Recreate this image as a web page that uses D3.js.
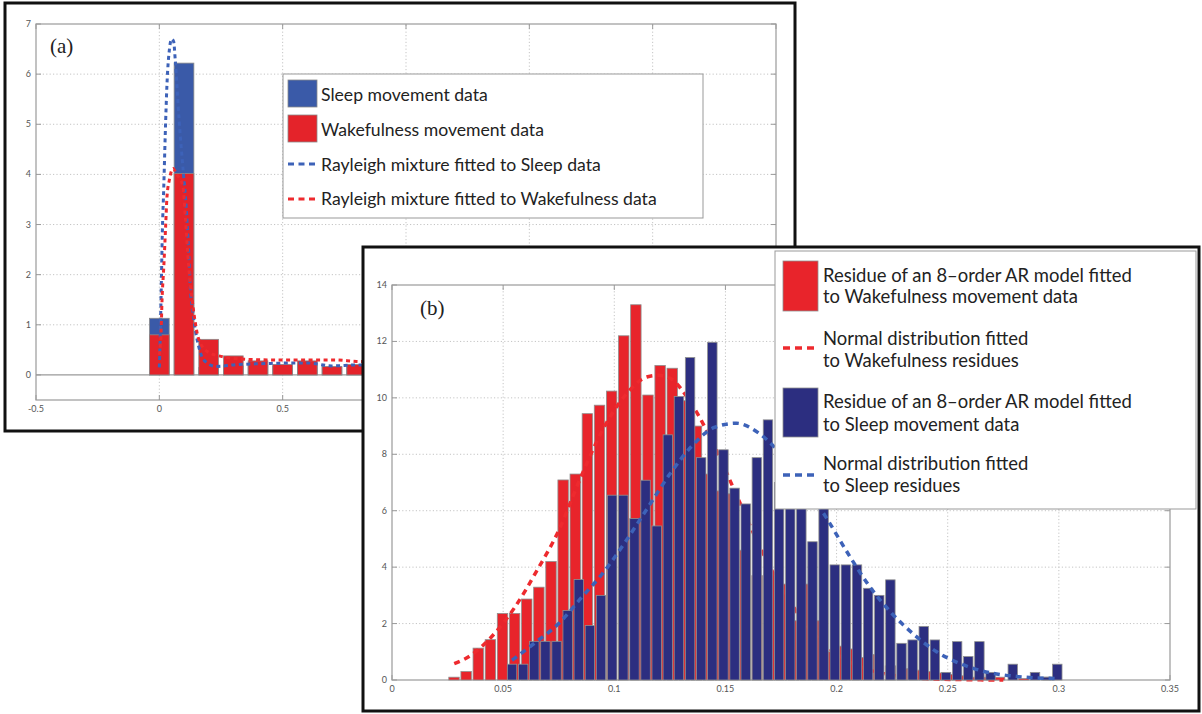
<!DOCTYPE html>
<html><head><meta charset="utf-8">
<script src="https://cdn.jsdelivr.net/npm/d3@7"></script>
<style>body{margin:0;background:#fff}</style>
</head><body>
<svg id="c" width="1202" height="714"></svg>
<script>
// ---------- Panel (a) data ----------
const binsA = [0, 0.1, 0.2, 0.3, 0.4, 0.5, 0.6, 0.7, 0.8];
const sleepA = [1.13, 6.22, 0.15, 0.18, 0.2, 0.18, 0.2, 0.15, 0.18];
const wakeA  = [0.8, 4.02, 0.71, 0.38, 0.28, 0.21, 0.28, 0.17, 0.21];
const sleepFitAx = [0, 0.004, 0.008, 0.012, 0.018, 0.024, 0.031, 0.041, 0.05, 0.058, 0.065, 0.08, 0.098, 0.106, 0.119, 0.126, 0.135, 0.146, 0.16, 0.18, 0.23, 0.3, 0.45, 0.6, 0.7, 0.8, 1.0, 1.2];
const sleepFitAy = [0.15, 0.85, 1.8, 2.8, 3.75, 4.8, 5.8, 6.5, 6.7, 6.65, 6.25, 5.1, 4.0, 3.55, 2.45, 1.7, 1.3, 0.9, 0.56, 0.3, 0.17, 0.2, 0.23, 0.24, 0.18, 0.2, 0.17, 0.15];
const wakeFitAx = [0, 0.007, 0.011, 0.018, 0.025, 0.031, 0.041, 0.056, 0.07, 0.085, 0.096, 0.106, 0.119, 0.133, 0.144, 0.153, 0.167, 0.2, 0.25, 0.3, 0.44, 0.6, 0.71, 0.8, 1.0, 1.2];
const wakeFitAy = [0.4, 0.84, 1.5, 2.15, 2.9, 3.55, 3.9, 4.12, 4.0, 3.9, 3.75, 3.1, 2.16, 1.5, 1.1, 0.84, 0.63, 0.45, 0.37, 0.33, 0.3, 0.3, 0.3, 0.27, 0.25, 0.22];
const ticksAX = [-0.5, 0, 0.5, 1, 1.5, 2, 2.5];
const tickLabelsAX = ["-0.5", "0", "0.5", "1", "1.5", "2", "2.5"];
const ticksAY = [0, 1, 2, 3, 4, 5, 6, 7];
const legendA = ["Sleep movement data", "Wakefulness movement data", "Rayleigh mixture fitted to Sleep data", "Rayleigh mixture fitted to Wakefulness data"];

// ---------- Panel (b) data ----------
const redBinStart = 0.0279, redBinWidth = 0.005454;
const blueBinStart = 0.054, blueBinWidth = 0.005006;
const wakeB = [0.1, 0.3, 1.13, 1.43, 2.36, 2.36, 2.87, 3.29, 4.2, 7.09,
  7.3, 9.44, 9.74, 10.24, 12.2, 13.3, 10.1, 11.15, 11.05, 9.9,
  9.0, 7.3, 6.7, 6.6, 4.6, 3.7, 3.8, 3.4, 2.1, 3.4,
  2.1, 1.0, 1.2, 1.1, 0.8, 0.9, 0.5, 0.4, 0.35, 0.3,
  0.25, 0.2, 0.15, 0.1, 0.1, 0.1, 0, 0.05, 0, 0.1];
const sleepB = [0.56, 0.56, 1.37, 1.37, 1.37, 2.46, 3.56, 1.93, 3.0, 6.55,
  6.55, 5.72, 7.08, 5.46, 8.69, 10.05, 11.43, 7.88, 11.97, 8.16,
  6.8, 6.24, 7.88, 9.22, 7.0, 6.5, 6.3, 4.9, 6.2, 4.08,
  4.08, 4.08, 3.25, 3.0, 3.55, 1.3, 1.42, 1.9, 1.42, 0.27,
  1.36, 0.83, 1.36, 0.27, 0, 0.56, 0, 0.27, 0.1, 0.56];
const wakeFitBx = [0.028, 0.035, 0.045, 0.055, 0.065, 0.075, 0.085, 0.095, 0.105, 0.115, 0.12, 0.125, 0.135, 0.145, 0.155, 0.165, 0.175, 0.185, 0.195, 0.205, 0.215, 0.225, 0.24, 0.26, 0.275];
const wakeFitBy = [0.58, 0.85, 1.55, 2.55, 3.85, 5.3, 7.2, 8.9, 10.1, 10.75, 10.8, 10.7, 9.75, 8.3, 6.55, 4.8, 3.3, 2.1, 1.24, 0.68, 0.35, 0.17, 0.05, 0.01, 0];
const sleepFitBx = [0.054, 0.064, 0.075, 0.085, 0.095, 0.105, 0.115, 0.125, 0.135, 0.145, 0.155, 0.165, 0.175, 0.185, 0.195, 0.205, 0.215, 0.225, 0.235, 0.245, 0.255, 0.265, 0.275, 0.285, 0.3];
const sleepFitBy = [0.7, 1.3, 2.0, 2.9, 3.8, 4.9, 6.1, 7.3, 8.3, 8.95, 9.1, 8.75, 8.0, 6.95, 5.8, 4.5, 3.3, 2.35, 1.6, 1.0, 0.6, 0.33, 0.18, 0.1, 0.05];
const ticksBX = [0, 0.05, 0.1, 0.15, 0.2, 0.25, 0.3, 0.35];
const tickLabelsBX = ["0", "0.05", "0.1", "0.15", "0.2", "0.25", "0.3", "0.35"];
const ticksBY = [0, 2, 4, 6, 8, 10, 12, 14];
const legendB = [["Residue of an 8\u2013order AR model fitted", "to Wakefulness movement data"],
                 ["Normal distribution fitted", "to Wakefulness residues"],
                 ["Residue of an 8\u2013order AR model fitted", "to Sleep movement data"],
                 ["Normal distribution fitted", "to Sleep residues"]];

// ---------- styles ----------
const C = {
  aBlue: "#3a5aa8", aRed: "#e4232a", bRed: "#e8242b", bNavy: "#2c2e80",
  dashBlue: "#3d62b8", dashRed: "#ee2a2e", axis: "#9a9a9a", grid: "#c4c4c4", tick: "#555"
};
const FONT = "Lato, 'Open Sans', sans-serif";

const svg = d3.select("#c");
svg.append("rect").attr("width", 1202).attr("height", 714).attr("fill", "#fff");

function drawAxes(g, x, y, xt, xl, yt, gx, gy) {
  const [x0, x1] = x.range(), [y0, y1] = y.range();
  // grid
  g.append("g").selectAll("line").data(gx).join("line")
    .attr("x1", d => x(d)).attr("x2", d => x(d)).attr("y1", y0).attr("y2", y1)
    .attr("stroke", C.grid).attr("stroke-width", 1).attr("stroke-dasharray", "1.2,2.2");
  g.append("g").selectAll("line").data(gy).join("line")
    .attr("y1", d => y(d)).attr("y2", d => y(d)).attr("x1", x0).attr("x2", x1)
    .attr("stroke", C.grid).attr("stroke-width", 1).attr("stroke-dasharray", "1.2,2.2");
  // box
  g.append("rect").attr("x", x0).attr("y", y1).attr("width", x1 - x0).attr("height", y0 - y1)
    .attr("fill", "none").attr("stroke", C.axis).attr("stroke-width", 1.2);
  // ticks
  const tl = 5;
  const tg = g.append("g").attr("stroke", C.axis).attr("stroke-width", 1);
  xt.forEach(d => {
    tg.append("line").attr("x1", x(d)).attr("x2", x(d)).attr("y1", y0).attr("y2", y0 - tl);
    tg.append("line").attr("x1", x(d)).attr("x2", x(d)).attr("y1", y1).attr("y2", y1 + tl);
  });
  yt.forEach(d => {
    tg.append("line").attr("y1", y(d)).attr("y2", y(d)).attr("x1", x0).attr("x2", x0 + tl);
    tg.append("line").attr("y1", y(d)).attr("y2", y(d)).attr("x1", x1).attr("x2", x1 - tl);
  });
  g.append("g").selectAll("text").data(xt).join("text")
    .attr("x", d => x(d)).attr("y", y0 + 12).attr("text-anchor", "middle")
    .attr("font-family", FONT).attr("font-size", 9).attr("fill", C.tick)
    .text((d, i) => xl[i]);
  g.append("g").selectAll("text").data(yt).join("text")
    .attr("x", x0 - 5).attr("y", d => y(d) + 3).attr("text-anchor", "end")
    .attr("font-family", FONT).attr("font-size", 9).attr("fill", C.tick)
    .text(d => d);
}

function fitFont(sel, target) {
  const w = sel.node().getComputedTextLength();
  const fs = parseFloat(sel.attr("font-size"));
  return fs * target / w;
}

// ================= PANEL (a) =================
const gA = svg.append("g");
gA.append("rect").attr("x", 5).attr("y", 3).attr("width", 790).attr("height", 428)
  .attr("fill", "#fff").attr("stroke", "#111").attr("stroke-width", 3);
const xA = d3.scaleLinear().domain([-0.5, 2.5]).range([36, 776]);
const yA = d3.scaleLinear().domain([-0.5, 7]).range([400, 24]);
drawAxes(gA, xA, yA, ticksAX, tickLabelsAX, ticksAY, [0, 0.5, 1, 1.5, 2], [1, 2, 3, 4, 5, 6]);
// baseline
gA.append("line").attr("x1", xA(-0.5)).attr("x2", xA(2.5)).attr("y1", yA(0)).attr("y2", yA(0))
  .attr("stroke", C.axis).attr("stroke-width", 1.2);
const bwA = xA(0.08) - xA(0);
gA.append("g").selectAll("rect").data(binsA).join("rect")
  .attr("x", d => xA(d) - bwA / 2).attr("width", bwA)
  .attr("y", (d, i) => yA(sleepA[i])).attr("height", (d, i) => yA(0) - yA(sleepA[i]))
  .attr("fill", C.aBlue).attr("stroke", "#8a8a8a").attr("stroke-width", 0.8);
gA.append("g").selectAll("rect").data(binsA).join("rect")
  .attr("x", d => xA(d) - bwA / 2).attr("width", bwA)
  .attr("y", (d, i) => yA(wakeA[i])).attr("height", (d, i) => yA(0) - yA(wakeA[i]))
  .attr("fill", C.aRed).attr("stroke", "#8a8a8a").attr("stroke-width", 0.8);
const lineA = d3.line().x(d => xA(d[0])).y(d => yA(d[1])).curve(d3.curveMonotoneX);
gA.append("path").datum(sleepFitAx.map((v, i) => [v, sleepFitAy[i]])).attr("d", lineA)
  .attr("fill", "none").attr("stroke", C.dashBlue).attr("stroke-width", 3).attr("stroke-dasharray", "4,3.5");
gA.append("path").datum(wakeFitAx.map((v, i) => [v, wakeFitAy[i]])).attr("d", lineA)
  .attr("fill", "none").attr("stroke", C.dashRed).attr("stroke-width", 3).attr("stroke-dasharray", "4,3.5");
gA.append("text").attr("x", 50).attr("y", 53).attr("font-family", "'Liberation Serif', 'Times New Roman', serif")
  .attr("font-size", 21).attr("fill", "#222").text("(a)");
// legend (a)
const legA = gA.append("g");
legA.append("rect").attr("x", 283).attr("y", 74).attr("width", 420).attr("height", 144)
  .attr("fill", "#fff").attr("stroke", "#999").attr("stroke-width", 1);
legA.append("rect").attr("x", 288).attr("y", 80).attr("width", 29).attr("height", 27)
  .attr("fill", C.aBlue).attr("stroke", "#8a8a8a").attr("stroke-width", 0.8);
legA.append("rect").attr("x", 288).attr("y", 115).attr("width", 29).attr("height", 27)
  .attr("fill", C.aRed).attr("stroke", "#8a8a8a").attr("stroke-width", 0.8);
[[164, C.dashBlue], [199, C.dashRed]].forEach(([yy, col]) => {
  legA.append("line").attr("x1", 288).attr("x2", 317).attr("y1", yy).attr("y2", yy)
    .attr("stroke", col).attr("stroke-width", 3).attr("stroke-dasharray", "6,4.5");
});
const legAy = [101, 136, 171, 205];
const legAtexts = legA.selectAll("text.l").data(legendA).join("text").attr("class", "l")
  .attr("x", 321).attr("y", (d, i) => legAy[i]).attr("font-family", FONT)
  .attr("font-size", 19).attr("fill", "#222").text(d => d);
const fsA = fitFont(legAtexts.filter((d, i) => i === 3), 336);
legAtexts.attr("font-size", fsA);

// ================= PANEL (b) =================
const gB = svg.append("g");
gB.append("rect").attr("x", 363).attr("y", 247).attr("width", 836).attr("height", 464)
  .attr("fill", "#fff").attr("stroke", "#111").attr("stroke-width", 3);
const xB = d3.scaleLinear().domain([0, 0.35]).range([392, 1170]);
const yB = d3.scaleLinear().domain([0, 14]).range([680, 285]);
drawAxes(gB, xB, yB, ticksBX, tickLabelsBX, ticksBY, [0.05, 0.1, 0.15, 0.2, 0.25, 0.3], [2, 4, 6, 8, 10, 12]);
const bwR = (xB(redBinWidth) - xB(0)) * 0.86;
const bwB = (xB(blueBinWidth) - xB(0)) * 0.85;
const redCenters = wakeB.map((v, i) => redBinStart + i * redBinWidth);
const blueCenters = sleepB.map((v, i) => blueBinStart + i * blueBinWidth);
gB.append("g").selectAll("rect").data(wakeB).join("rect")
  .attr("x", (d, i) => xB(redCenters[i]) - bwR / 2).attr("width", bwR)
  .attr("y", d => yB(d)).attr("height", d => yB(0) - yB(d))
  .attr("fill", C.bRed).attr("stroke", "#8f8f8f").attr("stroke-width", 0.8);
const lineB = d3.line().x(d => xB(d[0])).y(d => yB(d[1])).curve(d3.curveMonotoneX);
gB.append("path").datum(wakeFitBx.map((v, i) => [v, wakeFitBy[i]])).attr("d", lineB)
  .attr("fill", "none").attr("stroke", C.dashRed).attr("stroke-width", 3.5).attr("stroke-dasharray", "6,5");
gB.append("g").selectAll("rect").data(sleepB).join("rect")
  .attr("x", (d, i) => xB(blueCenters[i]) - bwB / 2).attr("width", bwB)
  .attr("y", d => yB(d)).attr("height", d => yB(0) - yB(d))
  .attr("fill", C.bNavy).attr("stroke", "#8f8f8f").attr("stroke-width", 0.8);
gB.append("path").datum(sleepFitBx.map((v, i) => [v, sleepFitBy[i]])).attr("d", lineB)
  .attr("fill", "none").attr("stroke", C.dashBlue).attr("stroke-width", 3.5).attr("stroke-dasharray", "6,5");
gB.append("text").attr("x", 420).attr("y", 315).attr("font-family", "'Liberation Serif', 'Times New Roman', serif")
  .attr("font-size", 21).attr("fill", "#222").text("(b)");
// legend (b)
const legB = gB.append("g");
legB.append("rect").attr("x", 775).attr("y", 251).attr("width", 421).attr("height", 258)
  .attr("fill", "#fff").attr("stroke", "#999").attr("stroke-width", 1);
legB.append("rect").attr("x", 783).attr("y", 261).attr("width", 35).attr("height", 50)
  .attr("fill", C.bRed).attr("stroke", "#8f8f8f").attr("stroke-width", 0.8);
legB.append("rect").attr("x", 783).attr("y", 388).attr("width", 35).attr("height", 49)
  .attr("fill", C.bNavy).attr("stroke", "#8f8f8f").attr("stroke-width", 0.8);
[[348, C.dashRed], [475, C.dashBlue]].forEach(([yy, col]) => {
  legB.append("line").attr("x1", 783).attr("x2", 818).attr("y1", yy).attr("y2", yy)
    .attr("stroke", col).attr("stroke-width", 3.5).attr("stroke-dasharray", "7,5");
});
const legBy = [[282, 303], [345, 367], [408, 431], [470, 492]];
const legBlines = [];
legendB.forEach((pair, i) => pair.forEach((t, j) => legBlines.push({ t, y: legBy[i][j] })));
const legBtexts = legB.selectAll("text.l").data(legBlines).join("text").attr("class", "l")
  .attr("x", 823).attr("y", d => d.y).attr("font-family", FONT)
  .attr("font-size", 19).attr("fill", "#222").text(d => d.t);
const fsB = fitFont(legBtexts.filter((d, i) => i === 0), 309);
legBtexts.attr("font-size", fsB);
</script>
</body></html>
